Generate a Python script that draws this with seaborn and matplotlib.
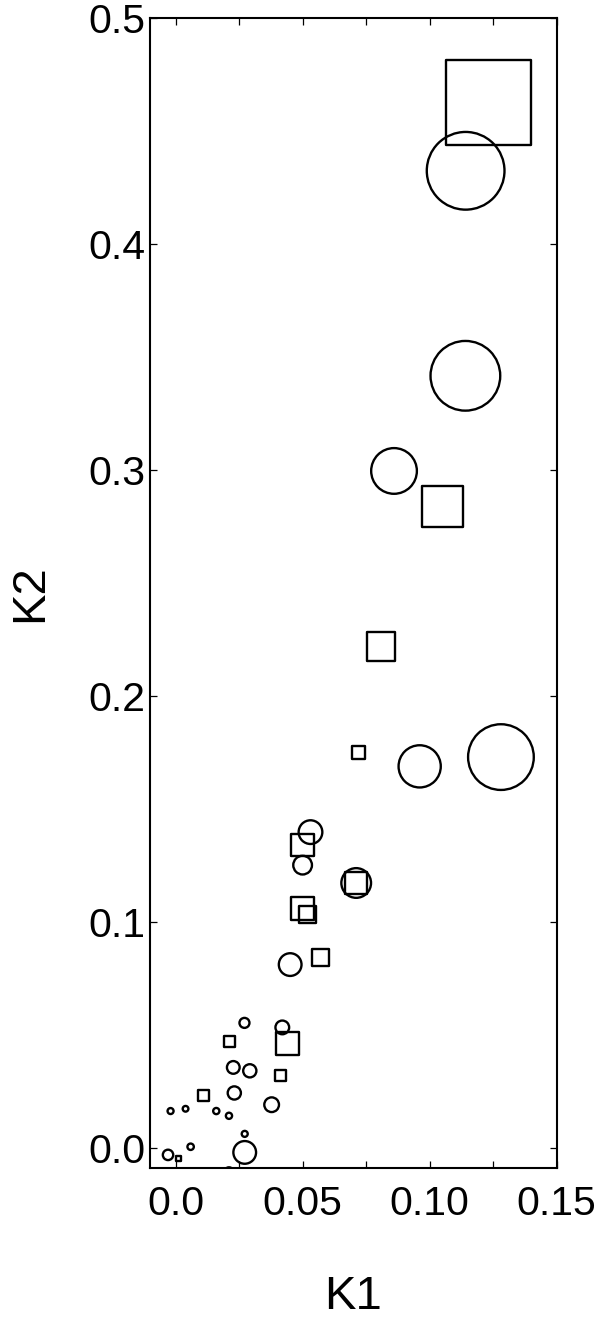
import numpy as np
import pandas as pd
import matplotlib
matplotlib.use("Agg")
import matplotlib.pyplot as plt
import seaborn as sns
from matplotlib.ticker import MultipleLocator

# circles
c_k1 = [0.1142, 0.1141, 0.0860, 0.0961, 0.1281, 0.0531, 0.0500, 0.0711,
        0.0451, 0.0271, 0.0420, 0.0227, 0.0292, 0.0231, 0.0378, -0.0020,
        0.0039, 0.0160, 0.0210, 0.0272, 0.0272, 0.0059, -0.0030, 0.0210]
c_k2 = [0.4324, 0.3417, 0.2996, 0.1689, 0.1730, 0.1398, 0.1252, 0.1173,
        0.0812, 0.0554, 0.0534, 0.0357, 0.0342, 0.0244, 0.0192, 0.0164,
        0.0174, 0.0164, 0.0143, 0.0063, -0.0019, 0.0006, -0.0030, -0.0108]
c_w = [80, 72, 48, 44.5, 68, 26, 21, 32,
       25, 12.3, 16, 15, 15.5, 15.5, 17, 8.3,
       8, 8.5, 8.5, 8.3, 25, 8.7, 12.7, 12.7]

# squares
s_k1 = [0.1233, 0.1050, 0.0809, 0.0720, 0.0499, 0.0711, 0.0499, 0.0521,
        0.0570, 0.0211, 0.0440, 0.0411, 0.0109, 0.0012]
s_k2 = [0.4625, 0.2838, 0.2220, 0.1750, 0.1341, 0.1172, 0.1061, 0.1032,
        0.0844, 0.0472, 0.0464, 0.0323, 0.0233, -0.0048]
s_w = [87.7, 43, 30.7, 16, 25, 24, 25, 19.3,
       19, 13, 25, 13.3, 13, 7.3]

df = pd.DataFrame({
    "K1": c_k1 + s_k1,
    "K2": c_k2 + s_k2,
    "w": c_w + s_w,
    "kind": ["circle"] * len(c_k1) + ["square"] * len(s_k1),
})

sns.set_style("ticks")
plt.rcParams["font.family"] = ["Liberation Sans", "DejaVu Sans"]
plt.rcParams["text.color"] = "black"
plt.rcParams["axes.labelcolor"] = "black"
plt.rcParams["xtick.color"] = "black"
plt.rcParams["ytick.color"] = "black"

fig = plt.figure(figsize=(6, 13.22), dpi=100)
ax = fig.add_axes([0.25, 1 - 1168 / 1322, 0.678, 1150 / 1322])

# marker diameter in px -> area in pt^2
px2pt = 72 / 100
size_map = {v: ((v - 2.3) * px2pt) ** 2 for v in df["w"].unique()}

sns.scatterplot(data=df, x="K1", y="K2", size="w", sizes=size_map,
                style="kind", markers={"circle": "o", "square": "s"},
                facecolor="none", edgecolor="black", linewidth=1.7,
                legend=False, ax=ax)

ax.set_xlim(-0.0101, 0.1501)
ax.set_ylim(-0.0088, 0.5)
ax.set_xticks([0.0, 0.05, 0.10, 0.15])
ax.set_xticklabels(["0.0", "0.05", "0.10", "0.15"])
ax.xaxis.set_minor_locator(MultipleLocator(0.025))
ax.set_yticks([0.0, 0.1, 0.2, 0.3, 0.4, 0.5])
ax.set_yticklabels(["0.0", "0.1", "0.2", "0.3", "0.4", "0.5"])

ax.tick_params(which="both", direction="in", top=True, right=True,
               length=5, width=0.9, labelsize=29.5)
ax.tick_params(which="minor", length=5)
ax.tick_params(axis="x", which="both", pad=12)
ax.tick_params(axis="y", pad=3)
for sp in ax.spines.values():
    sp.set_linewidth(1.5)
    sp.set_color("black")

ax.set_xlabel("K1", fontsize=34, labelpad=38)
ax.set_ylabel("K2", fontsize=34, labelpad=26)

fig.savefig("out.png", dpi=100)
